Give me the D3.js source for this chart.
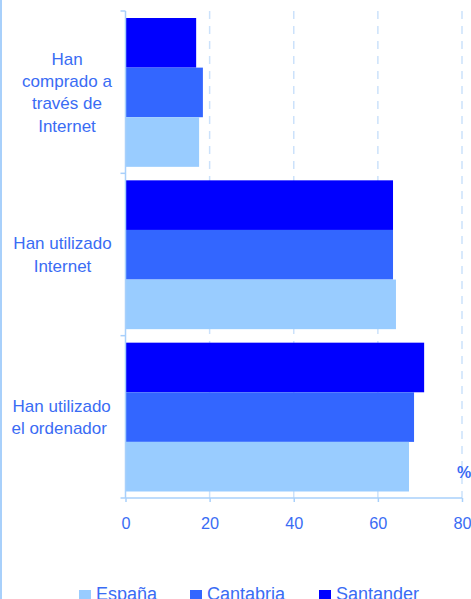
<!DOCTYPE html>
<html><head><meta charset="utf-8">
<script src="https://cdn.jsdelivr.net/npm/d3@7"></script>
<style>body{margin:0;background:#fff;overflow:hidden}svg{display:block}</style>
</head><body>
<script>
const categories = ["Han comprado a través de Internet", "Han utilizado Internet", "Han utilizado el ordenador"];
const categoryLines = [["Han","comprado a","través de","Internet"],["Han utilizado","Internet"],["Han utilizado","el ordenador"]];
const seriesNames = ["Santander","Cantabria","España"];
const santander = [16.8, 63.6, 71.0];
const cantabria = [18.4, 63.6, 68.6];
const espana = [17.5, 64.3, 67.4];
const seriesValues = [santander, cantabria, espana];
const xTicks = [0, 20, 40, 60, 80];
const legendNames = ["España","Cantabria","Santander"];
const colors = {"España":"#99ccff","Cantabria":"#3366ff","Santander":"#0000ff"};

const W = 471, H = 599;
const textColor = "#3a6cf4";
const axisColor = "#a8d0fb";
const gridColor = "#cce2fb";
const svg = d3.select("body").append("svg").attr("width", W).attr("height", H)
  .style("font-family", "'Liberation Sans', Arial, sans-serif");

svg.append("rect").attr("x",0).attr("y",0).attr("width",2).attr("height",H).attr("fill","#a8d0fb");

const x = d3.scaleLinear().domain([0, 80]).range([125.5, 462]);
const y = d3.scaleBand().domain(categories).range([11, 498]).padding(0);
const inner = d3.scaleBand().domain(seriesNames).range([7, y.bandwidth() - 6.5]).padding(0);

// gridlines
svg.append("g").selectAll("line").data(xTicks.slice(1)).join("line")
  .attr("x1", d => x(d)).attr("x2", d => x(d)).attr("y1", 11).attr("y2", 498)
  .attr("stroke", gridColor).attr("stroke-width", 1.5).attr("stroke-dasharray", "8,7");

// bars
const data = [];
categories.forEach((c, i) => seriesNames.forEach((s, j) => data.push({c, s, v: seriesValues[j][i]})));
svg.append("g").selectAll("rect").data(data).join("rect")
  .attr("x", x(0)).attr("y", d => y(d.c) + inner(d.s))
  .attr("width", d => x(d.v) - x(0)).attr("height", inner.bandwidth())
  .attr("fill", d => colors[d.s]);

// y axis
const yAxis = svg.append("g");
yAxis.append("line").attr("x1", x(0)).attr("x2", x(0)).attr("y1", 11).attr("y2", 498)
  .attr("stroke", axisColor).attr("stroke-width", 1.5);
const bounds = categories.map(c => y(c)).concat([y(categories[2]) + y.bandwidth()]);
yAxis.selectAll("line.t").data(bounds).join("line").attr("class","t")
  .attr("x1", x(0) - 5).attr("x2", x(0)).attr("y1", d => d).attr("y2", d => d)
  .attr("stroke", axisColor).attr("stroke-width", 1.5);

// category labels (line centres follow the original's wrapping)
const lineCentres = [[67,67,67,67],[62.5,62.5],[61.7,59.2]];
categories.forEach((c, i) => {
  const lines = categoryLines[i];
  const cy = y(c) + y.bandwidth() / 2;
  const lh = 22.3;
  const t = svg.append("text").attr("text-anchor", "middle").attr("fill", textColor)
    .attr("font-size", 17);
  lines.forEach((ln, k) => {
    t.append("tspan").attr("x", lineCentres[i][k]).attr("y", cy + (k - (lines.length - 1) / 2) * lh + 6).text(ln);
  });
});

// x axis
const xAxis = d3.axisBottom(x).tickValues(xTicks).tickSize(4).tickPadding(16).tickFormat(d3.format("d"));
const gx = svg.append("g").attr("transform", "translate(0,498)").call(xAxis);
gx.select(".domain").attr("stroke", axisColor).attr("stroke-width", 1.5).attr("d", `M${x(0)},0H${x(80)}`);
gx.selectAll(".tick line").attr("stroke", axisColor).attr("stroke-width", 1.5);
gx.selectAll(".tick text").attr("fill", textColor).attr("font-size", 16.3)
  .attr("font-family", "'Liberation Sans', Arial, sans-serif").attr("dy", null).attr("y", 31);

svg.append("text").attr("x", 457).attr("y", 478).attr("fill", textColor)
  .attr("font-size", 16).attr("font-weight", "bold").text("%");

// legend
const legendX = [79, 190, 319];
const lg = svg.append("g").selectAll("g").data(legendNames).join("g")
  .attr("transform", (d, i) => `translate(${legendX[i]},590)`);
lg.append("rect").attr("width", 12).attr("height", 12).attr("fill", d => colors[d]);
lg.append("text").attr("x", 17).attr("y", 10).attr("fill", textColor).attr("font-size", 18).text(d => d);
</script>
</body></html>
